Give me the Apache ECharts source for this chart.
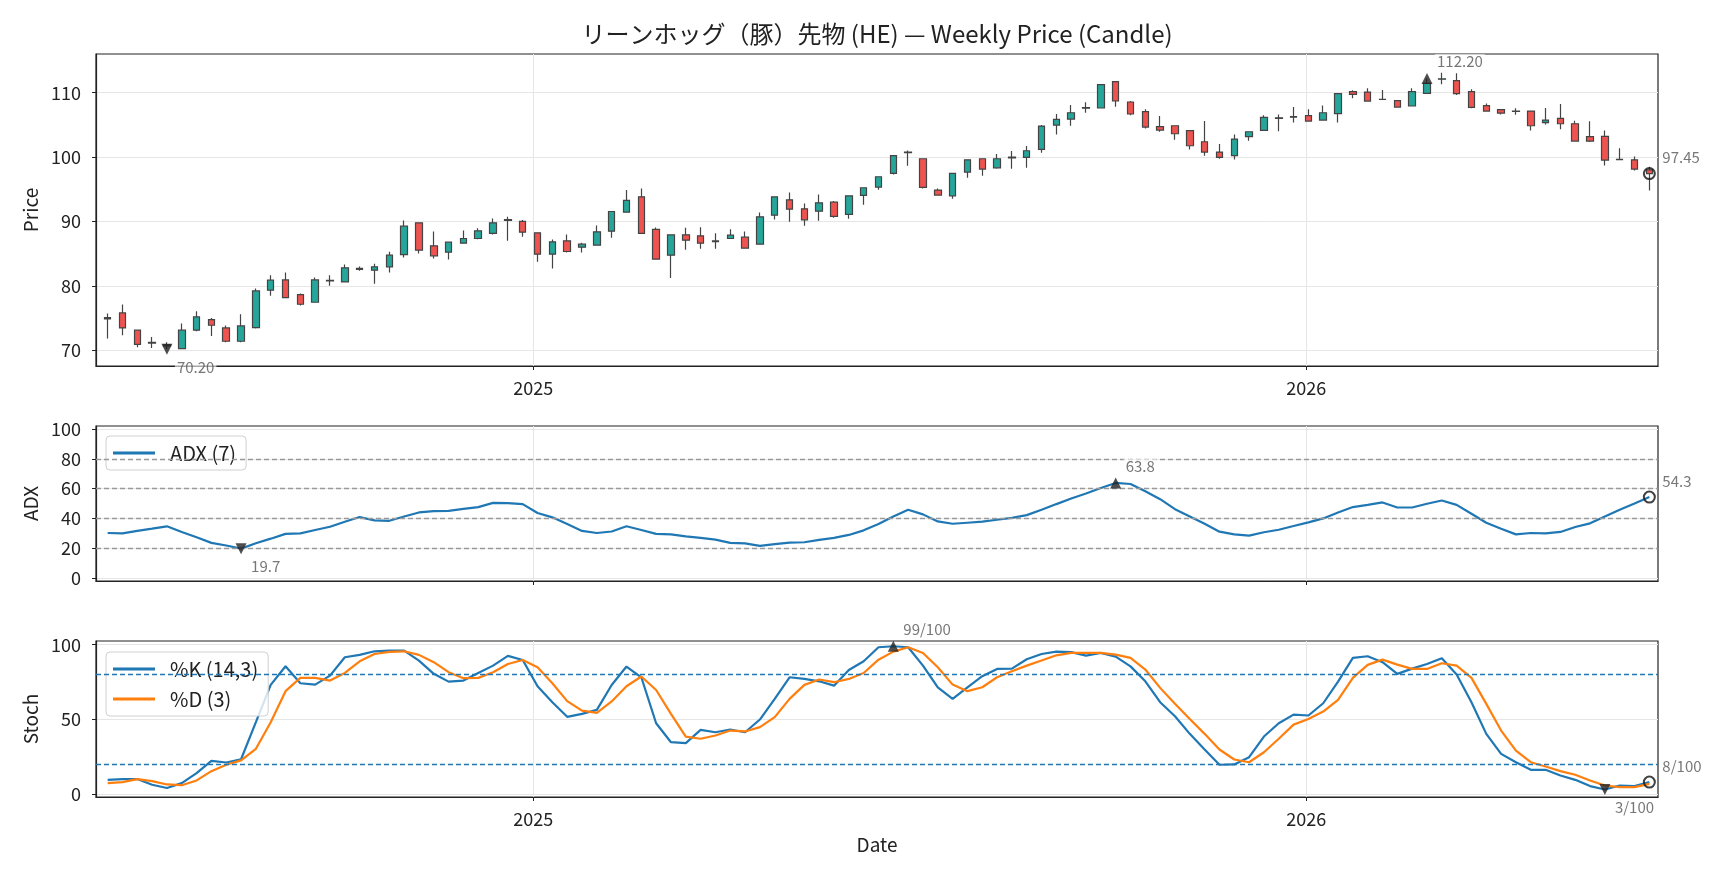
<!DOCTYPE html>
<html>
<head>
<meta charset="utf-8">
<script src="https://cdn.jsdelivr.net/npm/echarts@6.0.0/dist/echarts.min.js"></script>
<style>
  html, body { margin: 0; padding: 0; background: #fff; }
  #main { width: 1728px; height: 878px; }
</style>
</head>
<body>
<div id="main"></div>
<script>
// weekly bars, first bar week of 2024-06-14
var firstWeek = Date.UTC(2024, 5, 14);
var yearTicks = [Date.UTC(2025, 0, 1), Date.UTC(2026, 0, 1)];

var opens = [74.9, 75.84, 73.15, 71.15, 70.9, 70.3, 73.15, 74.8, 73.51, 71.44,
  73.56, 79.36, 80.96, 78.68, 77.49, 80.8, 80.65, 82.6, 82.46, 82.98,
  84.89, 89.81, 86.24, 85.26, 86.66, 87.38, 88.16, 90.2, 90.02, 88.26,
  84.95, 87.02, 86.03, 86.34, 88.52, 91.47, 93.85, 88.78, 84.79, 87.95,
  87.79, 86.9, 87.38, 87.59, 86.5, 91.0, 93.38, 91.99, 91.62, 93.02,
  91.11, 94.06, 95.35, 97.47, 100.7, 99.75, 94.89, 94.0, 97.68, 99.75,
  98.35, 99.9, 99.96, 101.2, 104.98, 105.91, 107.6, 107.62, 111.71, 108.55,
  107.05, 104.72, 104.87, 104.1, 102.39, 100.79, 100.22, 103.17, 104.15, 106.0,
  106.2, 106.43, 105.75, 106.74, 110.15, 110.1, 108.95, 108.76, 107.93, 109.9,
  112.1, 111.86, 110.15, 107.98, 107.36, 107.1, 107.15, 105.34, 106.01, 105.18,
  103.17, 103.22, 99.65, 99.59, 98.04];
var closes = [75.1, 73.51, 70.97, 71.25, 70.7, 73.15, 75.22, 73.92, 71.44, 73.82,
  79.25, 80.91, 78.22, 77.18, 80.96, 80.9, 82.83, 82.75, 82.98, 84.79,
  89.29, 85.57, 84.69, 86.81, 87.38, 88.57, 89.81, 90.3, 88.36, 84.95,
  86.86, 85.36, 86.5, 88.41, 91.57, 93.28, 88.16, 84.17, 87.95, 87.12,
  86.66, 87.0, 87.9, 85.88, 90.74, 93.85, 91.93, 90.28, 92.92, 90.8,
  94.0, 95.25, 96.96, 100.22, 100.8, 95.3, 94.11, 97.47, 99.59, 98.15,
  99.75, 100.0, 100.99, 104.82, 105.86, 106.89, 107.7, 111.24, 108.71, 106.69,
  104.67, 104.2, 103.63, 101.77, 100.79, 99.96, 102.8, 103.94, 106.17, 106.1,
  106.3, 105.6, 106.89, 109.84, 109.74, 108.7, 108.98, 107.77, 110.15, 111.45,
  112.15, 109.84, 107.72, 107.15, 106.84, 107.15, 104.87, 105.75, 105.18, 102.49,
  102.49, 99.54, 99.6, 98.15, 97.45];
var lows = [71.85, 72.37, 70.5, 70.4, 70.2, 70.25, 73.0, 72.27, 71.3, 71.3,
  73.4, 78.48, 78.1, 77.0, 77.4, 80.03, 80.55, 82.36, 80.34, 82.1,
  84.43, 85.05, 84.27, 84.12, 86.6, 87.28, 88.0, 87.02, 87.64, 83.76,
  82.72, 85.21, 85.21, 86.3, 87.48, 91.4, 88.1, 84.1, 81.27, 85.62,
  85.78, 85.78, 87.3, 85.8, 86.4, 90.33, 89.97, 89.35, 90.12, 90.59,
  90.43, 92.61, 94.94, 97.32, 98.66, 95.14, 94.0, 93.54, 96.8, 97.11,
  98.2, 98.2, 98.35, 100.68, 103.53, 104.87, 106.89, 107.6, 107.82, 106.48,
  104.46, 103.94, 102.7, 101.2, 100.22, 99.75, 99.65, 102.54, 104.05, 104.0,
  105.39, 105.5, 105.7, 105.39, 109.12, 108.6, 108.9, 107.67, 107.9, 109.8,
  111.3, 109.64, 107.57, 107.1, 106.63, 106.58, 104.15, 105.08, 104.31, 102.4,
  102.34, 98.71, 99.6, 97.94, 94.83];
var highs = [75.73, 77.13, 73.2, 72.1, 71.3, 74.18, 76.1, 75.06, 73.87, 75.63,
  79.62, 81.69, 82.1, 78.85, 81.32, 81.69, 83.34, 83.03, 83.45, 85.31,
  90.17, 89.9, 88.47, 86.9, 88.62, 88.98, 90.49, 90.74, 90.23, 88.3,
  87.22, 88.0, 86.71, 89.4, 91.6, 94.89, 95.14, 89.09, 88.0, 89.04,
  89.14, 88.21, 88.83, 88.47, 91.42, 93.9, 94.52, 92.81, 94.21, 93.18,
  94.05, 95.3, 97.0, 100.32, 101.04, 99.8, 95.14, 97.5, 99.6, 99.8,
  100.47, 100.94, 101.72, 104.98, 106.69, 108.08, 108.5, 111.34, 111.75, 108.7,
  107.41, 106.38, 104.9, 104.1, 105.6, 102.03, 103.53, 104.0, 106.48, 106.63,
  107.77, 107.41, 108.03, 109.9, 110.36, 110.67, 110.41, 108.8, 110.67, 112.2,
  113.1, 113.0, 110.52, 108.34, 107.4, 107.57, 107.2, 107.62, 108.24, 105.65,
  105.55, 104.15, 101.36, 100.11, 98.51];

var adx = [30.2, 30.0, 31.6, 33.1, 34.7, 30.9, 27.3, 23.6, 21.8, 19.7,
  23.3, 26.4, 29.6, 30.0, 32.2, 34.4, 37.8, 40.9, 38.7, 38.4,
  41.3, 44.0, 44.9, 45.1, 46.4, 47.6, 50.4, 50.2, 49.6, 43.6,
  40.7, 36.2, 31.6, 30.2, 31.2, 34.7, 32.2, 29.6, 29.3, 28.0,
  26.9, 25.8, 23.6, 23.3, 21.6, 22.7, 23.8, 24.0, 25.6, 26.9,
  28.9, 32.0, 36.2, 41.3, 45.8, 42.7, 38.0, 36.4, 37.1, 37.8,
  39.1, 40.4, 42.2, 45.8, 49.6, 53.3, 56.7, 60.4, 63.8, 63.1,
  58.2, 52.9, 46.2, 41.3, 36.4, 31.1, 29.3, 28.4, 30.7, 32.4,
  34.9, 37.3, 40.0, 44.0, 47.6, 49.1, 50.7, 47.3, 47.3, 49.8,
  52.0, 49.1, 43.1, 37.1, 33.1, 29.3, 30.2, 30.0, 30.9, 34.2,
  36.7, 41.3, 45.8, 50.0, 54.3];

var stochK = [9.5, 10.0, 10.0, 6.2, 4.0, 7.3, 14.0, 22.2, 21.1, 23.3,
  48.1, 73.1, 85.6, 74.2, 73.3, 79.3, 91.6, 93.2, 95.6, 96.1,
  96.1, 89.4, 80.5, 75.3, 76.0, 81.1, 86.0, 92.5, 89.8, 72.2,
  61.5, 51.7, 53.7, 56.4, 73.0, 85.4, 78.2, 47.4, 34.7, 34.1,
  43.0, 41.4, 43.2, 41.4, 49.9, 63.7, 78.2, 77.1, 75.5, 72.6,
  83.1, 88.9, 98.3, 99.0, 98.3, 86.0, 71.5, 63.7, 71.5, 78.9,
  83.8, 84.0, 90.3, 93.8, 95.4, 95.0, 92.7, 94.5, 92.0, 85.5,
  75.5, 61.5, 52.1, 40.3, 29.8, 19.6, 19.8, 24.7, 38.5, 47.4,
  53.2, 52.6, 60.8, 75.3, 91.2, 92.3, 88.3, 80.5, 84.0, 87.1,
  90.9, 80.0, 61.5, 40.3, 26.9, 21.3, 16.2, 16.2, 12.4, 9.5,
  5.3, 3.0, 5.7, 5.3, 8.0];
var stochD = [7.3, 8.0, 10.0, 8.6, 6.4, 5.9, 9.1, 15.3, 19.6, 22.5,
  30.3, 48.1, 68.9, 77.8, 77.8, 76.0, 81.1, 88.9, 93.8, 95.2,
  95.6, 93.2, 88.3, 81.6, 77.6, 77.8, 81.6, 87.1, 89.8, 84.9,
  74.2, 62.2, 55.9, 54.4, 62.0, 72.2, 78.7, 69.7, 53.7, 38.5,
  37.0, 39.2, 42.5, 41.9, 44.8, 51.5, 63.7, 73.1, 76.7, 74.9,
  77.1, 81.1, 90.0, 95.4, 98.3, 94.5, 84.9, 73.3, 68.9, 71.5,
  78.2, 82.2, 86.0, 89.4, 92.9, 94.5, 94.5, 94.5, 93.4, 91.2,
  83.4, 71.1, 60.4, 50.3, 40.3, 29.8, 23.1, 21.3, 28.0, 37.0,
  46.5, 50.3, 55.2, 63.1, 77.8, 86.5, 90.0, 86.7, 83.8, 83.8,
  87.6, 86.0, 77.8, 60.4, 42.5, 29.1, 21.3, 18.4, 15.3, 12.9,
  9.1, 5.7, 4.6, 4.6, 6.8];

// annotated points: [bar index, value, kind]
var priceNotes = [[4, 70.20, 'min'], [89, 112.20, 'max'], [104, 97.45, 'last']];
var adxNotes = [[9, 19.7, 'min'], [68, 63.8, 'max'], [104, 54.3, 'last']];
var stochNotes = [[101, 3, 'min'], [53, 99, 'max'], [104, 8, 'last']];

var adxLevels = [20, 40, 60, 80];
var stochLevels = [20, 80];
var priceTicks = [70, 80, 90, 100, 110];
var adxTicks = [0, 20, 40, 60, 80, 100];
var stochTicks = [0, 50, 100];

var dates = opens.map(function (_, i) { return firstWeek + i * 7 * 864e5; });

var FONT = '"Noto Sans CJK JP", "Noto Sans", sans-serif';
var INK = '#222';
var GRID = '#e6e6e6';

var myChart = echarts.init(document.getElementById('main'));

function noteSeries(notes, idx, fmt) {
    return {
        type: 'scatter',
        xAxisIndex: idx,
        yAxisIndex: idx,
        z: 10,
        clip: false,
        silent: true,
        data: notes.map(function (n) {
            var kind = n[2];
            return {
                value: [dates[n[0]], n[1]],
                symbol: kind === 'last' ? 'circle' : 'triangle',
                symbolSize: 11,
                symbolRotate: kind === 'min' ? 180 : 0,
                itemStyle: kind === 'last'
                    ? { color: 'rgba(0,0,0,0)', borderColor: '#111', borderWidth: 2 }
                    : { color: '#222' },
                label: {
                    show: true,
                    position: 'inside',
                    align: 'left',
                    verticalAlign: 'middle',
                    offset: kind === 'min' ? [8, 18] : (kind === 'max' ? [8, -17] : [11, -16]),
                    formatter: fmt(n[1]),
                    color: '#555',
                    fontFamily: FONT,
                    fontSize: 15,
                    backgroundColor: 'rgba(255,255,255,0.75)',
                    padding: [0, 2]
                }
            };
        })
    };
}

// x is a plain value axis in ms so that year ticks can be placed by hand
function xAxisFor(g) {
    return {
        type: 'value',
        gridIndex: g,
        min: Date.UTC(2024, 5, 8, 12),
        max: Date.UTC(2026, 5, 16, 2),
        axisLine: { show: true, onZero: false, lineStyle: { color: INK, width: 1.2 } },
        axisTick: { show: true, length: 4, lineStyle: { color: INK, width: 1 }, customValues: yearTicks },
        axisLabel: {
            show: g !== 1,
            customValues: yearTicks,
            formatter: function (v) { return String(new Date(v).getUTCFullYear()); },
            margin: 13,
            color: INK,
            fontFamily: FONT,
            fontSize: 18
        },
        splitLine: { show: true, lineStyle: { color: GRID, width: 1 } },
        name: g === 2 ? 'Date' : '',
        nameLocation: 'middle',
        nameGap: 38,
        nameTextStyle: { color: INK, fontFamily: FONT, fontSize: 19 }
    };
}

function yAxisFor(g, name, min, max, ticks) {
    return {
        type: 'value',
        gridIndex: g,
        min: min,
        max: max,
        name: name,
        nameLocation: 'middle',
        nameGap: 55,
        nameTextStyle: { color: INK, fontFamily: FONT, fontSize: 19 },
        axisLine: { show: true, lineStyle: { color: INK, width: 1.2 } },
        axisTick: { show: true, length: 4, lineStyle: { color: INK }, customValues: ticks },
        axisLabel: { customValues: ticks, margin: 15, color: INK, fontFamily: FONT, fontSize: 18 },
        splitLine: { show: true, lineStyle: { color: GRID, width: 1 } }
    };
}

function legendAt(names, top) {
    return {
        data: names,
        left: 106,
        top: top,
        orient: 'vertical',
        icon: 'rect',
        itemWidth: 42,
        itemHeight: 3,
        itemGap: 10,
        padding: [7, 10, 7, 7],
        borderColor: '#d0d0d0',
        borderWidth: 1,
        borderRadius: 4,
        backgroundColor: 'rgba(255,255,255,0.8)',
        textStyle: { color: INK, fontFamily: FONT, fontSize: 20, padding: [0, 0, 0, 10] }
    };
}

var option = {
    animation: false,
    backgroundColor: '#fff',
    textStyle: { fontFamily: FONT },
    graphic: [{
        type: 'text',
        x: 877,
        y: 34,
        style: {
            text: 'リーンホッグ（豚）先物 (HE) — Weekly Price (Candle)',
            align: 'center',
            verticalAlign: 'middle',
            fill: INK,
            font: '24px ' + FONT
        }
    }],
    grid: [
        { left: 96, right: 70, top: 54, height: 312, show: true, borderColor: INK, borderWidth: 1.2 },
        { left: 96, right: 70, top: 426, height: 155, show: true, borderColor: INK, borderWidth: 1.2 },
        { left: 96, right: 70, top: 641, height: 156, show: true, borderColor: INK, borderWidth: 1.2 }
    ],
    legend: [
        legendAt(['ADX (7)'], 436),
        legendAt(['%K (14,3)', '%D (3)'], 652)
    ],
    xAxis: [xAxisFor(0), xAxisFor(1), xAxisFor(2)],
    yAxis: [
        yAxisFor(0, 'Price', 67.6, 116, priceTicks),
        yAxisFor(1, 'ADX', -2, 102, adxTicks),
        yAxisFor(2, 'Stoch', -2, 102.5, stochTicks)
    ],
    series: [
        {
            type: 'candlestick',
            xAxisIndex: 0,
            yAxisIndex: 0,
            barWidth: 7,
            data: dates.map(function (d, i) { return [d, opens[i], closes[i], lows[i], highs[i]]; }),
            itemStyle: {
                color: '#26a69a',
                color0: '#ef5350',
                borderColor: '#444',
                borderColor0: '#444',
                borderWidth: 1.2
            }
        },
        noteSeries(priceNotes, 0, function (v) { return v.toFixed(2); }),
        {
            name: 'ADX (7)',
            type: 'line',
            xAxisIndex: 1,
            yAxisIndex: 1,
            symbol: 'none',
            color: '#1f77b4',
            lineStyle: { color: '#1f77b4', width: 2.2 },
            data: dates.map(function (d, i) { return [d, adx[i]]; }),
            markLine: {
                silent: true,
                symbol: 'none',
                label: { show: false },
                lineStyle: { color: '#999', type: [5, 3], width: 1.3 },
                data: adxLevels.map(function (v) { return { yAxis: v }; })
            }
        },
        noteSeries(adxNotes, 1, function (v) { return v.toFixed(1); }),
        {
            name: '%K (14,3)',
            type: 'line',
            xAxisIndex: 2,
            yAxisIndex: 2,
            symbol: 'none',
            color: '#1f77b4',
            lineStyle: { color: '#1f77b4', width: 2.2 },
            data: dates.map(function (d, i) { return [d, stochK[i]]; }),
            markLine: {
                silent: true,
                symbol: 'none',
                label: { show: false },
                lineStyle: { color: '#1f77b4', type: [5, 3], width: 1.3 },
                data: stochLevels.map(function (v) { return { yAxis: v }; })
            }
        },
        {
            name: '%D (3)',
            type: 'line',
            xAxisIndex: 2,
            yAxisIndex: 2,
            symbol: 'none',
            color: '#ff7f0e',
            lineStyle: { color: '#ff7f0e', width: 2.2 },
            data: dates.map(function (d, i) { return [d, stochD[i]]; })
        },
        noteSeries(stochNotes, 2, function (v) { return Math.round(v) + '/100'; })
    ]
};

myChart.setOption(option);
</script>
</body>
</html>
